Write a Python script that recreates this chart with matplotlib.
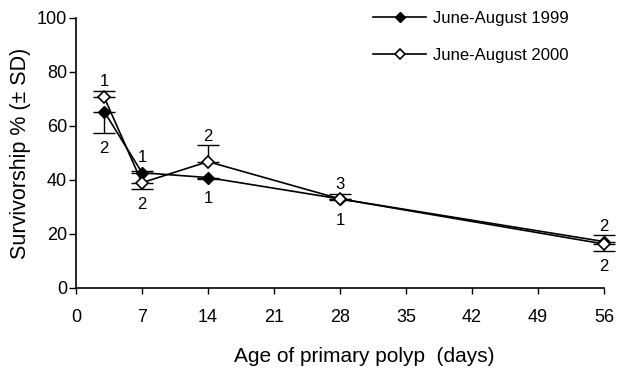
import matplotlib
matplotlib.use("Agg")
import matplotlib.pyplot as plt

days = [3, 7, 14, 28, 56]
s1999 = [65.3, 42.7, 40.9, 33.0, 17.2]
sd1999 = [7.8, 0.8, 0.6, 0.5, 2.4]
dir1999 = ["down", "up", "down", "down", "up"]
s2000 = [70.6, 39.0, 46.8, 33.0, 16.3]
sd2000 = [2.5, 2.5, 6.0, 1.7, 2.6]
dir2000 = ["up", "down", "up", "up", "down"]
n_above = ["1", "1", "2", "3", "2"]
n_below = ["2", "2", "1", "1", "2"]
xticks = [0, 7, 14, 21, 28, 35, 42, 49, 56]
yticks = [0, 20, 40, 60, 80, 100]

plt.rcParams['font.family'] = ['Liberation Sans', 'DejaVu Sans']

fig = plt.figure(figsize=(6.17, 3.70), dpi=100)
ax = fig.add_axes([76 / 617, 1 - 288 / 370, (604 - 76) / 617, 270 / 370])

def split(sd, dirs):
    lo = [s if d == "down" else 0 for s, d in zip(sd, dirs)]
    hi = [s if d == "up" else 0 for s, d in zip(sd, dirs)]
    return [lo, hi]

for vals, sd, dr in ((s1999, sd1999, dir1999), (s2000, sd2000, dir2000)):
    eb = ax.errorbar(days, vals, yerr=split(sd, dr), fmt='none', ecolor='black',
                     elinewidth=1.0, capsize=8, capthick=1.0, zorder=2)
    for art in eb.lines[1] + eb.lines[2]:
        art.set_clip_on(False)
l1, = ax.plot(days, s1999, color='black', lw=1.2, marker='D', markersize=6.5,
              markerfacecolor='black', markeredgecolor='black', label='June-August 1999',
              zorder=3, clip_on=False)
l2, = ax.plot(days, s2000, color='black', lw=1.2, marker='D', markersize=6.5,
              markerfacecolor='white', markeredgecolor='black', markeredgewidth=1.2,
              label='June-August 2000', zorder=4, clip_on=False)

mhalf = 2.2  # marker half-height in data units (visual clearance)
for i, d in enumerate(days):
    tops = []
    bots = []
    for v, s, dr in ((s1999[i], sd1999[i], dir1999[i]), (s2000[i], sd2000[i], dir2000[i])):
        tops.append(max(v + (s if dr == "up" else 0), v + mhalf))
        bots.append(min(v - (s if dr == "down" else 0), v - mhalf))
    ax.annotate(n_above[i], (d, max(tops)), xytext=(0, 7.5), textcoords='offset points',
                ha='center', va='center_baseline', fontsize=12)
    ax.annotate(n_below[i], (d, min(bots)), xytext=(0, -10), textcoords='offset points',
                ha='center', va='center_baseline', fontsize=12)

ax.set_xlim(0, 56)
ax.set_ylim(0, 100)
ax.set_xticks(xticks)
ax.set_yticks(yticks)
ax.tick_params(axis='x', direction='out', length=4, width=1, labelsize=13, pad=11)
ax.tick_params(axis='y', direction='out', length=5, width=1, labelsize=13, pad=1.5)
for sp in ['top', 'right']:
    ax.spines[sp].set_visible(False)
for sp in ['left', 'bottom']:
    ax.spines[sp].set_linewidth(1.2)
ax.set_xlabel('Age of primary polyp  (days)', fontsize=15)
ax.xaxis.set_label_coords(0.546, -0.255)
ax.xaxis.label.set_va('center')
ax.set_ylabel('Survivorship % (± SD)', fontsize=15.5, labelpad=4)

fig.legend(handles=[l1, l2], loc='upper left', bbox_to_anchor=(0.58, 1.01),
           frameon=False, fontsize=12, handlelength=3.2, labelspacing=1.3,
           handletextpad=0.4, markerscale=0.75)

fig.savefig('out.png', dpi=100)
